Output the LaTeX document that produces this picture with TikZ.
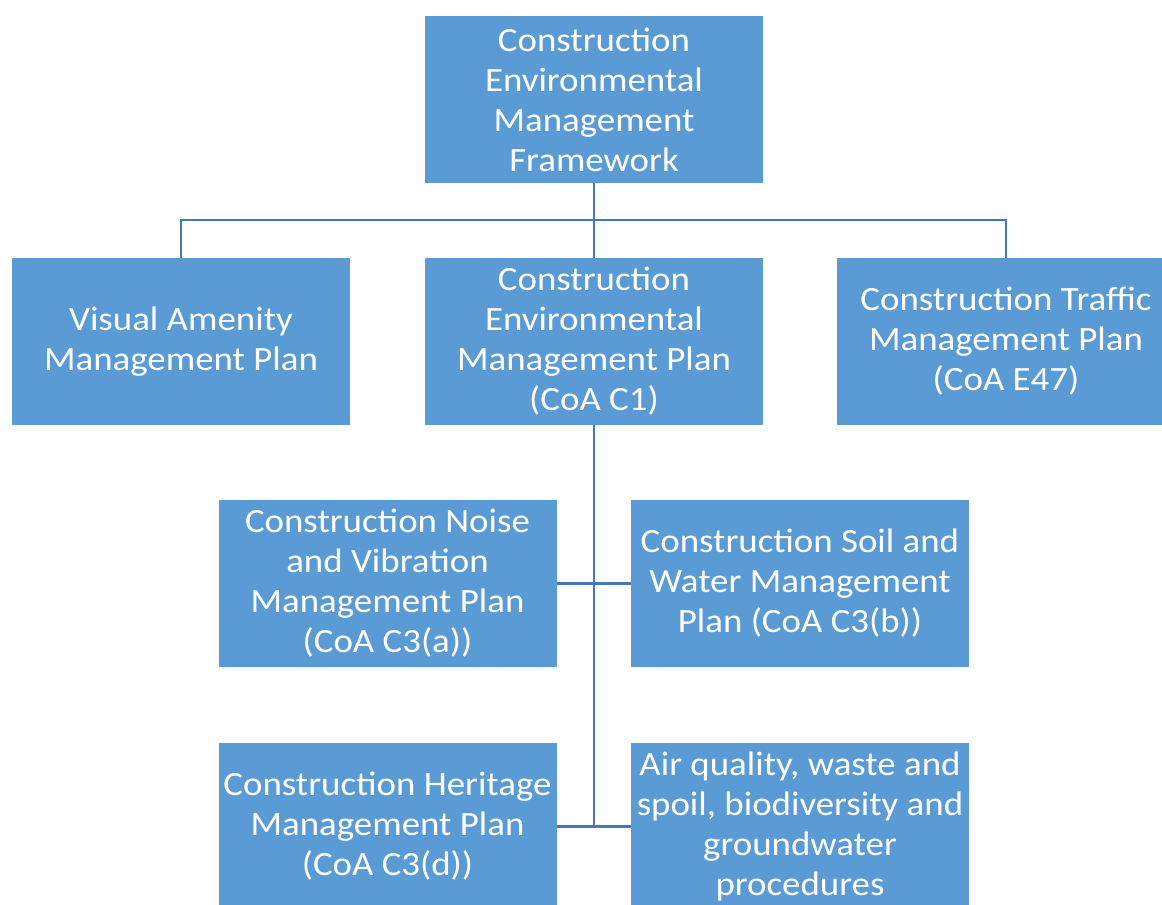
\documentclass[tikz,border=0pt]{standalone}
\usepackage{fontspec}
\setmainfont{Carlito}[FakeStretch=1.085]
\definecolor{boxblue}{HTML}{5B9BD5}
\definecolor{lineblue}{HTML}{4677B8}
\begin{document}
\begin{tikzpicture}[x=0.75pt,y=-0.75pt,
  box/.style={fill=boxblue,draw=none,text=white,align=center,inner sep=0pt,
    minimum width=253.5pt,minimum height=125.25pt,
    font=\fontsize{25.5pt}{30pt}\selectfont},
  conn/.style={draw=lineblue,line width=2pt}]
\useasboundingbox (0,0) rectangle (1162,904);
\clip (0,0) rectangle (1162,904);
\node[box] (top) at (594,99.5) {Construction\\Environmental\\Management\\Framework};
\node[box] (va) at (181,341.5) {Visual Amenity\\Management Plan};
\node[box] (cemp) at (594,341.5) {Construction\\Environmental\\Management Plan\\(CoA C1)};
\node[box] (ctmp) at (1006,341.5) {Construction Traffic\\Management Plan\\(CoA E47)};
\node[box] (cnv) at (387.5,583.5) {Construction Noise\\and Vibration\\Management Plan\\(CoA C3(a))};
\node[box] (csw) at (800,583.5) {Construction Soil and\\Water Management\\Plan (CoA C3(b))};
\node[box] (ch) at (387.5,826.5) {Construction Heritage\\Management Plan\\(CoA C3(d))};
\node[box] (aq) at (800,826.5) {Air quality, waste and\\spoil, biodiversity and\\groundwater\\procedures};
\coordinate (hb) at (594,220);
\coordinate (j2) at (594,826.5);
\draw[conn] (top) -- (cemp);
\draw[conn] (va.north) |- (hb) -| (ctmp.north);
\draw[conn] (cemp.south) -- (j2);
\draw[conn] (cnv) -- (csw);
\draw[conn] (ch) -- (aq);
\end{tikzpicture}
\end{document}
